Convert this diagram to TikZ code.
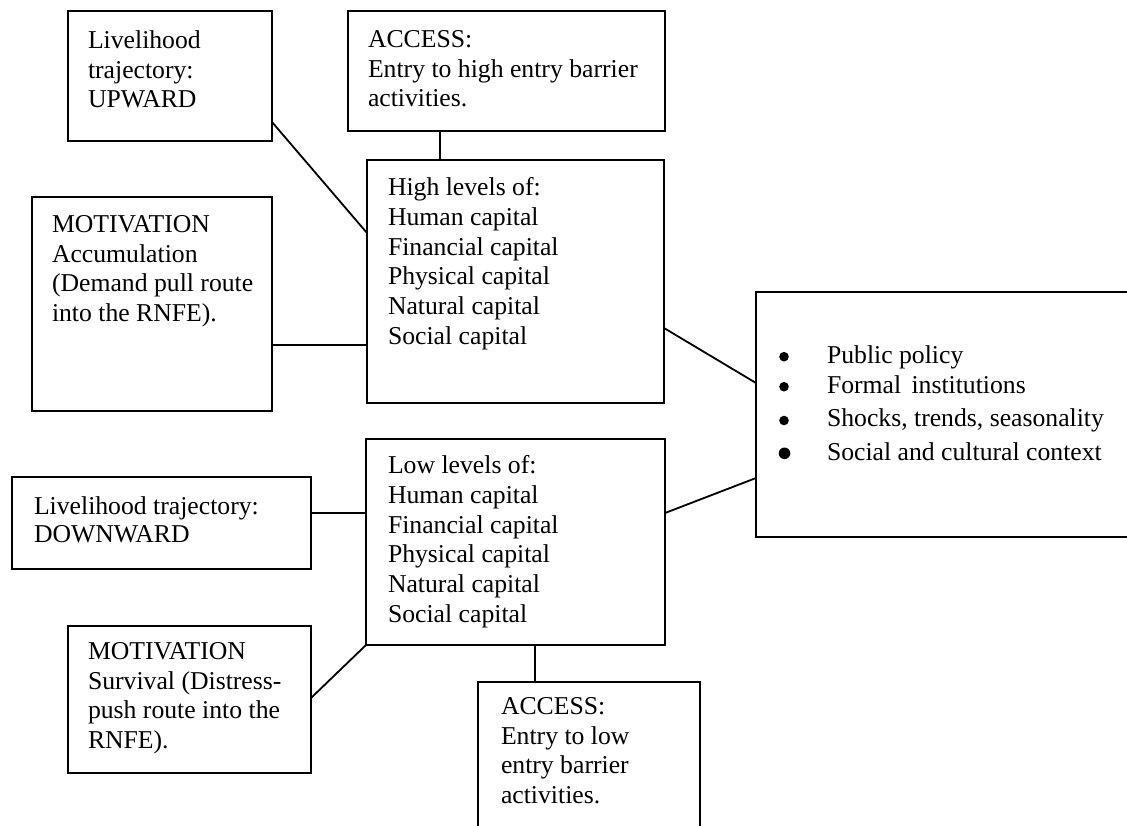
\documentclass[tikz,border=0pt]{standalone}
\usepackage{fontspec}
\setmainfont{Liberation Serif}
\begin{document}
\begin{tikzpicture}[x=0.5pt,y=-0.5pt,
  box/.style={draw, line width=0.9pt, inner sep=0pt, outer sep=0pt, anchor=north west, rectangle},
  txt/.style={anchor=north west, inner sep=0pt, outer sep=0pt, align=left, font=\fontsize{12.85}{14.85}\selectfont},
  link/.style={line width=0.9pt}]
\useasboundingbox (0,0) rectangle (1127,825);

% boxes
\node[box, minimum width=102pt, minimum height=65pt] (up) at (68,11) {};
\node[box, minimum width=158.5pt, minimum height=60pt] (acchi) at (348,11) {};
\node[box, minimum width=148.5pt, minimum height=121.5pt] (high) at (367,160) {};
\node[box, minimum width=120pt, minimum height=107pt] (motacc) at (32,197) {};
\node[box, minimum width=187pt, minimum height=122.5pt] (ctx) at (756,292) {};
\node[box, minimum width=149.5pt, minimum height=46pt] (down) at (12,477) {};
\node[box, minimum width=149.5pt, minimum height=103pt] (low) at (366,439) {};
\node[box, minimum width=121.5pt, minimum height=73.5pt] (surv) at (68,626) {};
\node[box, minimum width=111pt, minimum height=74pt] (acclo) at (478,682) {};

% texts
\node[txt] (tup) at (88,30.5) {Livelihood\\trajectory:\\UPWARD};
\node[txt] (tacchi) at (368,30.5) {ACCESS:\\Entry to high entry barrier\\activities.};
\node[txt] (thigh) at (388,177.5) {High levels of:\\Human capital\\Financial capital\\Physical capital\\Natural capital\\Social capital};
\node[txt] (tmotacc) at (52,215.5) {MOTIVATION\\Accumulation\\(Demand pull route\\into the RNFE).};
\node[txt] (tctx) at (827,345.5) {Public policy\\
Formal\hspace{0.4em}institutions\\[2.1pt]
Shocks, trends, seasonality\\[2.1pt]
Social and cultural context};
\node[txt] (tdown) at (34,496.5) {Livelihood trajectory:\\[-0.85pt]DOWNWARD};
\node[txt] (tlow) at (388,455.5) {Low levels of:\\Human capital\\Financial capital\\Physical capital\\Natural capital\\Social capital};
\node[txt] (tsurv) at (88,642.5) {MOTIVATION\\Survival (Distress-\\push route into the\\RNFE).};
\node[txt] (tacclo) at (501,697.5) {ACCESS:\\Entry to low\\entry barrier\\activities.};

% bullets
\fill (784,356.7) circle (2.4pt);
\fill (784,386.7) circle (2.4pt);
\fill (784,420.5) circle (2.4pt);
\fill (784.5,453.3) circle (2.9pt);

% connectors
\draw[link] (up.east |- 0,122) -- (high.west |- 0,233);
\draw[link] (acchi.south -| 440,0) -- (high.north -| 440,0);
\draw[link] (motacc.east |- 0,345) -- (high.west |- 0,345);
\draw[link] (high.east |- 0,328) -- (ctx.west |- 0,383);
\draw[link] (low.east |- 0,513) -- (ctx.west |- 0,478);
\draw[link] (down.east |- 0,513) -- (low.west |- 0,513);
\draw[link] (surv.east |- 0,698) -- (low.south west);
\draw[link] (low.south -| 535,0) -- (acclo.north -| 535,0);
\end{tikzpicture}
\end{document}
